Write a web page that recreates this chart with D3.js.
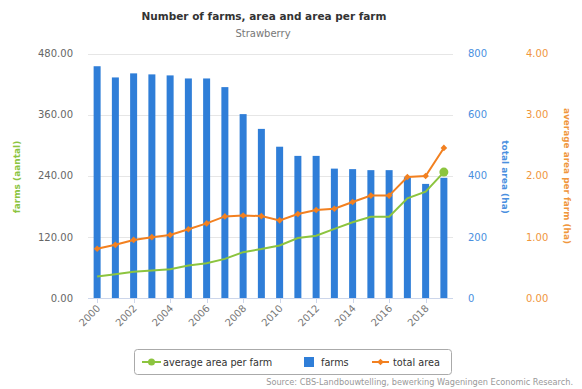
<!DOCTYPE html>
<html><head><meta charset="utf-8">
<script src="https://cdn.jsdelivr.net/npm/d3@7"></script>
<style>body{margin:0;background:#fff}svg{display:block;font-family:"DejaVu Sans",Verdana,sans-serif}</style>
</head><body><svg id="c" width="582" height="389"></svg>
<script>
const years = ["2000","2001","2002","2003","2004","2005","2006","2007","2008","2009","2010","2011","2012","2013","2014","2015","2016","2017","2018","2019"];
const farms = [455,433,441,439,437,431,431,414,361,332,297,279,279,254,253,251,251,237,224,236];
const totalArea = [161,174,190,199,206,225,244,267,270,268,254,275,288,292,314,335,335,396,399,491];
const avgArea = [0.35,0.39,0.43,0.45,0.47,0.53,0.57,0.64,0.75,0.80,0.86,0.98,1.02,1.13,1.24,1.33,1.33,1.63,1.74,2.06];
const farmTicks = [0,120,240,360,480];
const areaTicks = [0,200,400,600,800];
const avgTicks = [0,1,2,3,4];
const xTickYears = ["2000","2002","2004","2006","2008","2010","2012","2014","2016","2018"];

const GREEN="#8cc43f", BLUE="#2f7ed8", ORANGE="#f28020";
const svg = d3.select("#c");
const L=88, R=453, T=53.5, B=298;

const x = d3.scaleBand().domain(years).range([L,R]);
const yF = d3.scaleLinear().domain([0,480]).range([B,T]);
const yA = d3.scaleLinear().domain([0,800]).range([B,T]);
const yV = d3.scaleLinear().domain([0,4]).range([B,T]);
const cx = d => x(d)+x.bandwidth()/2;

// title
svg.append("text").attr("x",264).attr("y",20).attr("text-anchor","middle")
  .attr("font-size",10.5).attr("font-weight","bold").attr("fill","#333")
  .text("Number of farms, area and area per farm");
svg.append("text").attr("x",263).attr("y",37).attr("text-anchor","middle")
  .attr("font-size",10).attr("fill","#777").text("Strawberry");

// gridlines
svg.append("g").selectAll("line").data(farmTicks).join("line")
  .attr("x1",L).attr("x2",R).attr("y1",d=>Math.round(yF(d))+0.5).attr("y2",d=>Math.round(yF(d))+0.5)
  .attr("stroke","#e6e6e6").attr("stroke-width",1);

// left axis
const gl = svg.append("g").attr("transform",`translate(${L-15},0)`)
  .call(d3.axisLeft(yF).tickValues(farmTicks).tickFormat(d3.format(".2f")).tickSize(0).tickPadding(0));
gl.select(".domain").remove();
gl.selectAll("text").attr("fill","#666").attr("font-size",10).attr("font-family","DejaVu Sans");

// middle axis
const gm = svg.append("g").attr("transform",`translate(468,0)`)
  .call(d3.axisRight(yA).tickValues(areaTicks).tickFormat(d3.format("d")).tickSize(0).tickPadding(0));
gm.select(".domain").remove();
gm.selectAll("text").attr("fill","#4a8fe0").attr("font-size",10).attr("font-family","DejaVu Sans");

// right axis
const gr = svg.append("g").attr("transform",`translate(526,0)`)
  .call(d3.axisRight(yV).tickValues(avgTicks).tickFormat(d3.format(".2f")).tickSize(0).tickPadding(0));
gr.select(".domain").remove();
gr.selectAll("text").attr("fill","#f0963c").attr("font-size",10).attr("font-family","DejaVu Sans");

// axis titles
svg.append("text").attr("transform","translate(20,177) rotate(-90)").attr("text-anchor","middle")
  .attr("font-size",9).attr("font-weight","bold").attr("fill",GREEN).text("farms (aantal)");
svg.append("text").attr("transform","translate(502,177) rotate(90)").attr("text-anchor","middle")
  .attr("font-size",9).attr("font-weight","bold").attr("fill","#4a8fe0").text("total area (ha)");
svg.append("text").attr("transform","translate(564,176) rotate(90)").attr("text-anchor","middle")
  .attr("font-size",8.9).attr("font-weight","bold").attr("fill","#f0963c").text("average area per farm (ha)");

// bars
const bw = 7;
svg.append("g").selectAll("rect").data(years).join("rect")
  .attr("x",(d)=>cx(d)-bw/2).attr("width",bw)
  .attr("y",(d,i)=>yF(farms[i])).attr("height",(d,i)=>B-yF(farms[i]))
  .attr("fill",BLUE);

// x axis
svg.append("line").attr("x1",L).attr("x2",R).attr("y1",B+0.5).attr("y2",B+0.5).attr("stroke","#ccd6eb");
svg.append("g").selectAll("line").data(xTickYears).join("line")
  .attr("x1",d=>Math.round(cx(d))+0.5).attr("x2",d=>Math.round(cx(d))+0.5).attr("y1",B).attr("y2",B+5)
  .attr("stroke","#ccd6eb");
svg.append("g").selectAll("text").data(xTickYears).join("text")
  .attr("transform",d=>`translate(${cx(d)+4},${B+11}) rotate(-45)`)
  .attr("text-anchor","end").attr("font-size",10).attr("fill","#777").text(d=>d);

// green line
const lineV = d3.line().x((d,i)=>cx(years[i])).y(d=>yV(d));
svg.append("path").datum(avgArea).attr("d",lineV).attr("fill","none").attr("stroke",GREEN).attr("stroke-width",2);
svg.append("circle").attr("cx",cx(years[years.length-1])).attr("cy",yV(avgArea[avgArea.length-1])).attr("r",4.5).attr("fill",GREEN);

// orange line
const lineA = d3.line().x((d,i)=>cx(years[i])).y(d=>yA(d));
svg.append("path").datum(totalArea).attr("d",lineA).attr("fill","none").attr("stroke",ORANGE).attr("stroke-width",2);
const sym = d3.symbol().type(d3.symbolDiamond2).size(28);
svg.append("g").selectAll("path").data(totalArea).join("path")
  .attr("transform",(d,i)=>`translate(${cx(years[i])},${yA(d)})`).attr("d",sym).attr("fill",ORANGE);

// legend
const lg = svg.append("g");
lg.append("rect").attr("x",134.5).attr("y",349.5).attr("width",317).attr("height",25).attr("rx",3)
  .attr("fill","#fff").attr("stroke","#aaa");
const ly = 362;
lg.append("line").attr("x1",142).attr("x2",161).attr("y1",ly).attr("y2",ly).attr("stroke",GREEN).attr("stroke-width",2);
lg.append("circle").attr("cx",151.5).attr("cy",ly).attr("r",3.5).attr("fill",GREEN);
lg.append("text").attr("x",163).attr("y",ly+3.5).attr("font-size",9.7).attr("fill","#333").text("average area per farm");
lg.append("rect").attr("x",304).attr("y",ly-5).attr("width",10).attr("height",10).attr("fill",BLUE);
lg.append("text").attr("x",321).attr("y",ly+3.5).attr("font-size",9.7).attr("fill","#333").text("farms");
lg.append("line").attr("x1",372).attr("x2",389).attr("y1",ly).attr("y2",ly).attr("stroke",ORANGE).attr("stroke-width",2);
lg.append("path").attr("transform",`translate(380.5,${ly})`).attr("d",sym).attr("fill",ORANGE);
lg.append("text").attr("x",393).attr("y",ly+3.5).attr("font-size",9.7).attr("fill","#333").text("total area");

// source
svg.append("text").attr("x",573).attr("y",385).attr("text-anchor","end").attr("font-size",8.2).attr("fill","#999")
  .text("Source: CBS-Landbouwtelling, bewerking Wageningen Economic Research.");
</script></body></html>
